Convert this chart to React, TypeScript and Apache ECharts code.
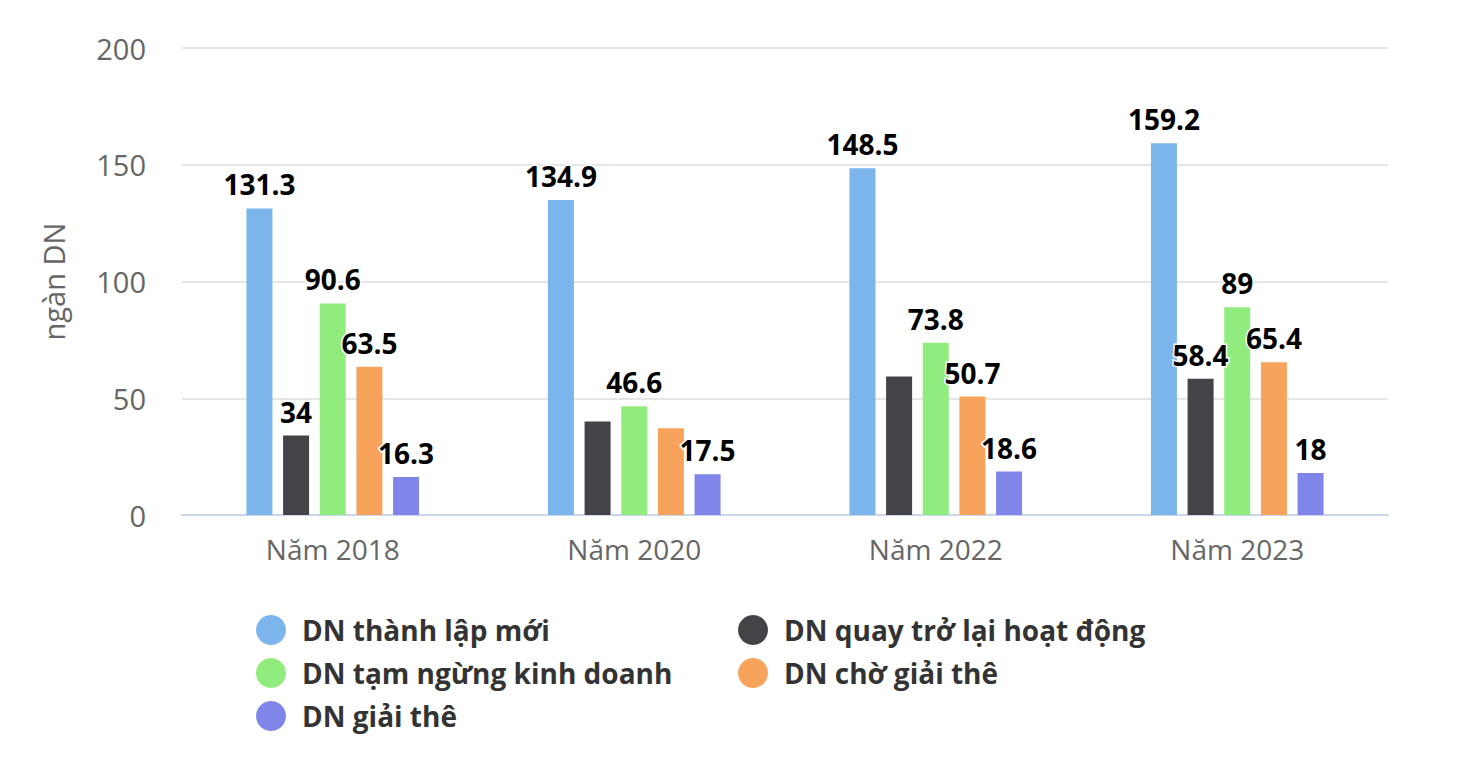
import React, { useEffect, useRef } from "react";
import * as echarts from "echarts";

const categories = ["Năm 2018", "Năm 2020", "Năm 2022", "Năm 2023"];
const seriesNames = [
  "DN thành lập mới",
  "DN quay trở lại hoạt động",
  "DN tạm ngừng kinh doanh",
  "DN chờ giải thê",
  "DN giải thê",
];
const newlyEstablished = [131.3, 134.9, 148.5, 159.2];
const returnedToOperation = [34, 40.0, 59.3, 58.4];
const suspendedBusiness = [90.6, 46.6, 73.8, 89];
const awaitingDissolution = [63.5, 37.1, 50.7, 65.4];
const dissolved = [16.3, 17.5, 18.6, 18];
// indices of data labels that are hidden in the original (overlap-hidden)
const hiddenLabels = [[], [1, 2], [], [1], []];
const yTicks = { min: 0, max: 200, interval: 50 };

const colors = ["#7cb5ec", "#434348", "#90ed7d", "#f7a35c", "#8085e9"];
const FONT = "'Open Sans', 'Noto Sans', sans-serif";

export default function App() {
  const ref = useRef<HTMLDivElement>(null);
  useEffect(() => {
    if (!ref.current) return;
    const chart = echarts.init(ref.current, null, { renderer: "svg" });
    const allData = [
      newlyEstablished,
      returnedToOperation,
      suspendedBusiness,
      awaitingDissolution,
      dissolved,
    ];
    const series = allData.map((vals, si) => ({
      type: "bar",
      name: seriesNames[si],
      barWidth: 26,
      barGap: "41%",
      itemStyle: { color: colors[si] },
      label: {
        show: true,
        position: "top",
        distance: 10,
        color: "#000",
        fontFamily: FONT,
        fontWeight: "bold",
        fontSize: 28,
        textBorderColor: "#fff",
        textBorderWidth: 3,
      },
      data: vals.map((v, i) =>
        hiddenLabels[si].includes(i) ? { value: v, label: { show: false } } : v
      ),
    }));
    const legendPos = [
      { left: 256, top: 614 },
      { left: 738, top: 614 },
      { left: 256, top: 657 },
      { left: 738, top: 657 },
      { left: 256, top: 700 },
    ];
    const legend = seriesNames.map((n, i) => ({
      data: [n],
      left: legendPos[i].left,
      top: legendPos[i].top,
      padding: 0,
      icon: "circle",
      itemWidth: 52,
      itemHeight: 30,
      selectedMode: false,
      textStyle: {
        fontFamily: FONT,
        fontWeight: "bold",
        fontSize: 28,
        color: "#333333",
        lineHeight: 32,
      },
    }));
    chart.setOption({
      animation: false,
      backgroundColor: "#ffffff",
      color: colors,
      grid: { left: 182, right: 72, top: 48, bottom: 257, containLabel: false },
      legend,
      xAxis: {
        type: "category",
        data: categories,
        axisTick: { show: false },
        axisLine: { lineStyle: { color: "#ccd6eb", width: 2 } },
        axisLabel: {
          color: "#666666",
          fontFamily: FONT,
          fontSize: 28,
          margin: 20,
        },
      },
      yAxis: {
        type: "value",
        min: yTicks.min,
        max: yTicks.max,
        interval: yTicks.interval,
        name: "ngàn DN",
        nameLocation: "middle",
        nameRotate: 90,
        nameGap: 114,
        nameTextStyle: { color: "#666666", fontFamily: FONT, fontSize: 29 },
        axisLine: { show: false },
        axisTick: { show: false },
        splitLine: { lineStyle: { color: "#e6e6e6", width: 2 } },
        axisLabel: {
          color: "#666666",
          fontFamily: FONT,
          fontSize: 29,
          margin: 36,
        },
      },
      series,
    });
    return () => chart.dispose();
  }, []);
  return (
    <div style={{ position: "fixed", left: 0, top: 0, width: 1460, height: 772, background: "#fff" }}>
      <div style={{ position: "absolute", left: 0, top: 0, width: 1460, height: 8, background: "#f6f6f8" }} />
      <div ref={ref} style={{ position: "absolute", left: 0, top: 0, width: 1460, height: 772 }} />
    </div>
  );
}
